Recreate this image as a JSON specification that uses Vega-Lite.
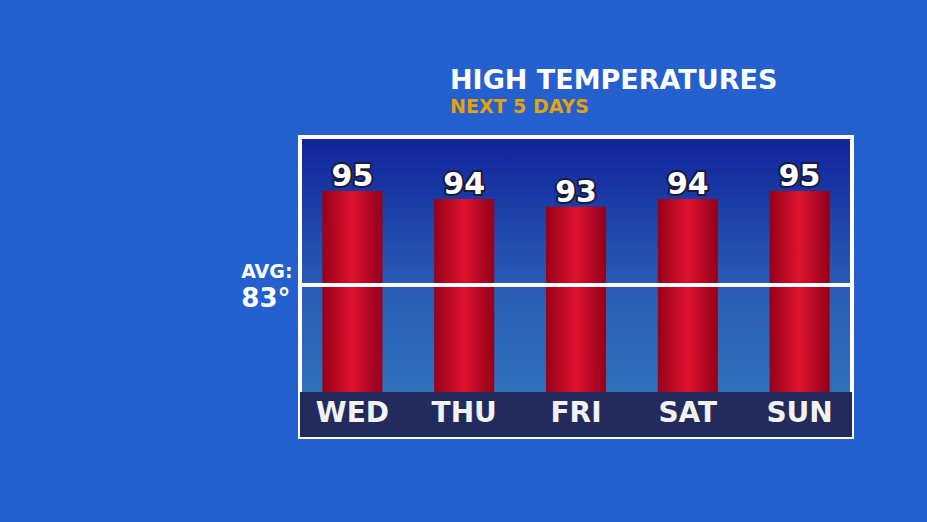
{
  "$schema": "https://vega.github.io/schema/vega-lite/v6.json",
  "width": 552,
  "height": 300,
  "autosize": "none",
  "padding": {"left": 300, "top": 137, "right": 75, "bottom": 85},
  "background": "#2461cf",
  "config": {
    "font": "DejaVu Sans",
    "view": {
      "stroke": "white",
      "strokeWidth": 4,
      "fill": {
        "gradient": "linear",
        "x1": 0, "y1": 0, "x2": 0, "y2": 1,
        "stops": [
          {"offset": 0, "color": "#11239a"},
          {"offset": 0.5, "color": "#2a5cb6"},
          {"offset": 1, "color": "#3279be"}
        ]
      }
    }
  },
  "title": {
    "text": "HIGH TEMPERATURES",
    "subtitle": "NEXT 5 DAYS",
    "anchor": "start",
    "frame": "group",
    "dx": 150,
    "offset": 19,
    "font": "DejaVu Sans",
    "fontSize": 27,
    "fontWeight": "bold",
    "color": "white",
    "subtitleFont": "DejaVu Sans",
    "subtitleFontSize": 19,
    "subtitleFontWeight": "bold",
    "subtitleColor": "#e3a20a",
    "subtitlePadding": 3
  },
  "data": {
    "values": [
      {"day": "WED", "temp": 95},
      {"day": "THU", "temp": 94},
      {"day": "FRI", "temp": 93},
      {"day": "SAT", "temp": 94},
      {"day": "SUN", "temp": 95}
    ]
  },
  "layer": [
    {
      "data": {"values": [{"band": "labels"}]},
      "mark": {"type": "rect", "fill": "#232b5c"},
      "encoding": {
        "y": {"datum": 63.6, "type": "quantitative", "scale": {"domain": [63.6, 101.9], "zero": false, "nice": false}},
        "y2": {"datum": 69.34}
      }
    },
    {
      "mark": {
        "type": "bar",
        "fill": {
          "gradient": "linear",
          "x1": 0, "y1": 0, "x2": 1, "y2": 0,
          "stops": [
            {"offset": 0, "color": "#98001a"},
            {"offset": 0.5, "color": "#dc1330"},
            {"offset": 1, "color": "#92001a"}
          ]
        }
      },
      "encoding": {
        "x": {"field": "day", "type": "nominal", "sort": null, "scale": {"paddingInner": 0.463, "paddingOuter": 0.2}, "axis": null},
        "y": {
          "field": "temp",
          "type": "quantitative",
          "scale": {"domain": [63.6, 101.9], "zero": false, "nice": false},
          "axis": {
            "values": [83],
            "labelExpr": "'83°'",
            "domain": false,
            "ticks": false,
            "grid": false,
            "labelFont": "DejaVu Sans",
            "labelFontSize": 26,
            "labelFontWeight": "bold",
            "labelColor": "white",
            "labelPadding": 10,
            "labelOffset": 13,
            "title": "AVG:",
            "titleAngle": 0,
            "titleFont": "DejaVu Sans",
            "titleFontSize": 19,
            "titleFontWeight": "bold",
            "titleColor": "white",
            "titleAlign": "right",
            "titleBaseline": "alphabetic",
            "titleX": -8,
            "titleY": 140
          }
        },
        "y2": {"datum": 69.34}
      }
    },
    {
      "mark": {"type": "rule", "color": "white", "strokeWidth": 4},
      "encoding": {
        "y": {"datum": 83, "type": "quantitative"}
      }
    },
    {
      "mark": {"type": "text", "baseline": "alphabetic", "dy": -5, "fontSize": 30, "fontWeight": "bold", "color": "#1a1a3a", "stroke": "#1a1a3a", "strokeWidth": 4, "strokeJoin": "round"},
      "encoding": {
        "x": {"field": "day", "type": "nominal", "sort": null},
        "y": {"field": "temp", "type": "quantitative"},
        "text": {"field": "temp"}
      }
    },
    {
      "mark": {"type": "text", "baseline": "alphabetic", "dy": -5, "fontSize": 30, "fontWeight": "bold", "color": "white"},
      "encoding": {
        "x": {"field": "day", "type": "nominal", "sort": null},
        "y": {"field": "temp", "type": "quantitative"},
        "text": {"field": "temp"}
      }
    },
    {
      "mark": {"type": "text", "baseline": "middle", "fontSize": 28, "fontWeight": "bold", "color": "#f2f2f2"},
      "encoding": {
        "x": {"field": "day", "type": "nominal", "sort": null},
        "y": {"datum": 66.6, "type": "quantitative"},
        "text": {"field": "day"}
      }
    }
  ]
}
